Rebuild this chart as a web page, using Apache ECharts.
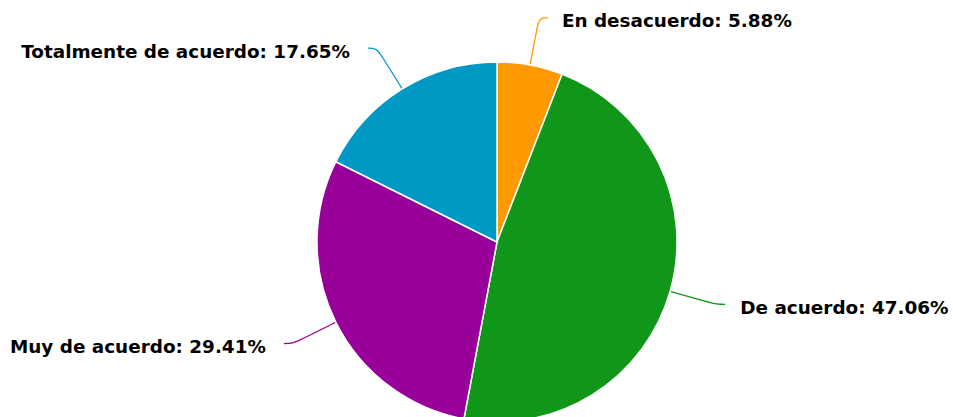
<!DOCTYPE html>
<html>
<head>
<meta charset="utf-8">
<script src="https://cdn.jsdelivr.net/npm/echarts@6/dist/echarts.min.js"></script>
<style>html,body{margin:0;padding:0;background:#fff;font-family:'DejaVu Sans'}#c{width:953px;height:417px}</style>
</head>
<body>
<div id="c"></div>
<script>
const categories = ['En desacuerdo', 'De acuerdo', 'Muy de acuerdo', 'Totalmente de acuerdo'];
const values = [1, 8, 5, 3];
const colors = ['#ff9900', '#109618', '#990099', '#0099c6'];
const labelGap = [14, 15, 18, 18];

const chart = echarts.init(document.getElementById('c'), null, {renderer: 'svg'});
chart.setOption({
  animation: false,
  textStyle: {fontFamily: 'DejaVu Sans'},
  series: [{
    type: 'pie',
    center: [497, 242],
    radius: 180,
    startAngle: 90,
    clockwise: true,
    avoidLabelOverlap: false,
    data: categories.map((n, i) => ({
      name: n, value: values[i],
      itemStyle: {color: colors[i]},
      label: {distanceToLabelLine: labelGap[i]}
    })),
    itemStyle: {borderColor: '#fff', borderWidth: 1.5},
    label: {
      show: true,
      position: 'outside',
      formatter: function (p) { return '{t|' + p.name + ': ' + p.percent.toFixed(2) + '%}'; },
      rich: {
        t: {
          fontFamily: 'DejaVu Sans',
          fontWeight: 'bold',
          fontSize: 18.4,
          color: '#000',
          padding: [6, 0, 0, 0]
        }
      },
      fontFamily: 'DejaVu Sans',
      fontWeight: 'bold',
      fontSize: 18.4,
      color: '#000'
    },
    labelLine: {show: true, length: 48, length2: 9, smooth: 0.4, lineStyle: {width: 1.3}},
    emphasis: {disabled: true}
  }]
});
</script>
</body>
</html>
